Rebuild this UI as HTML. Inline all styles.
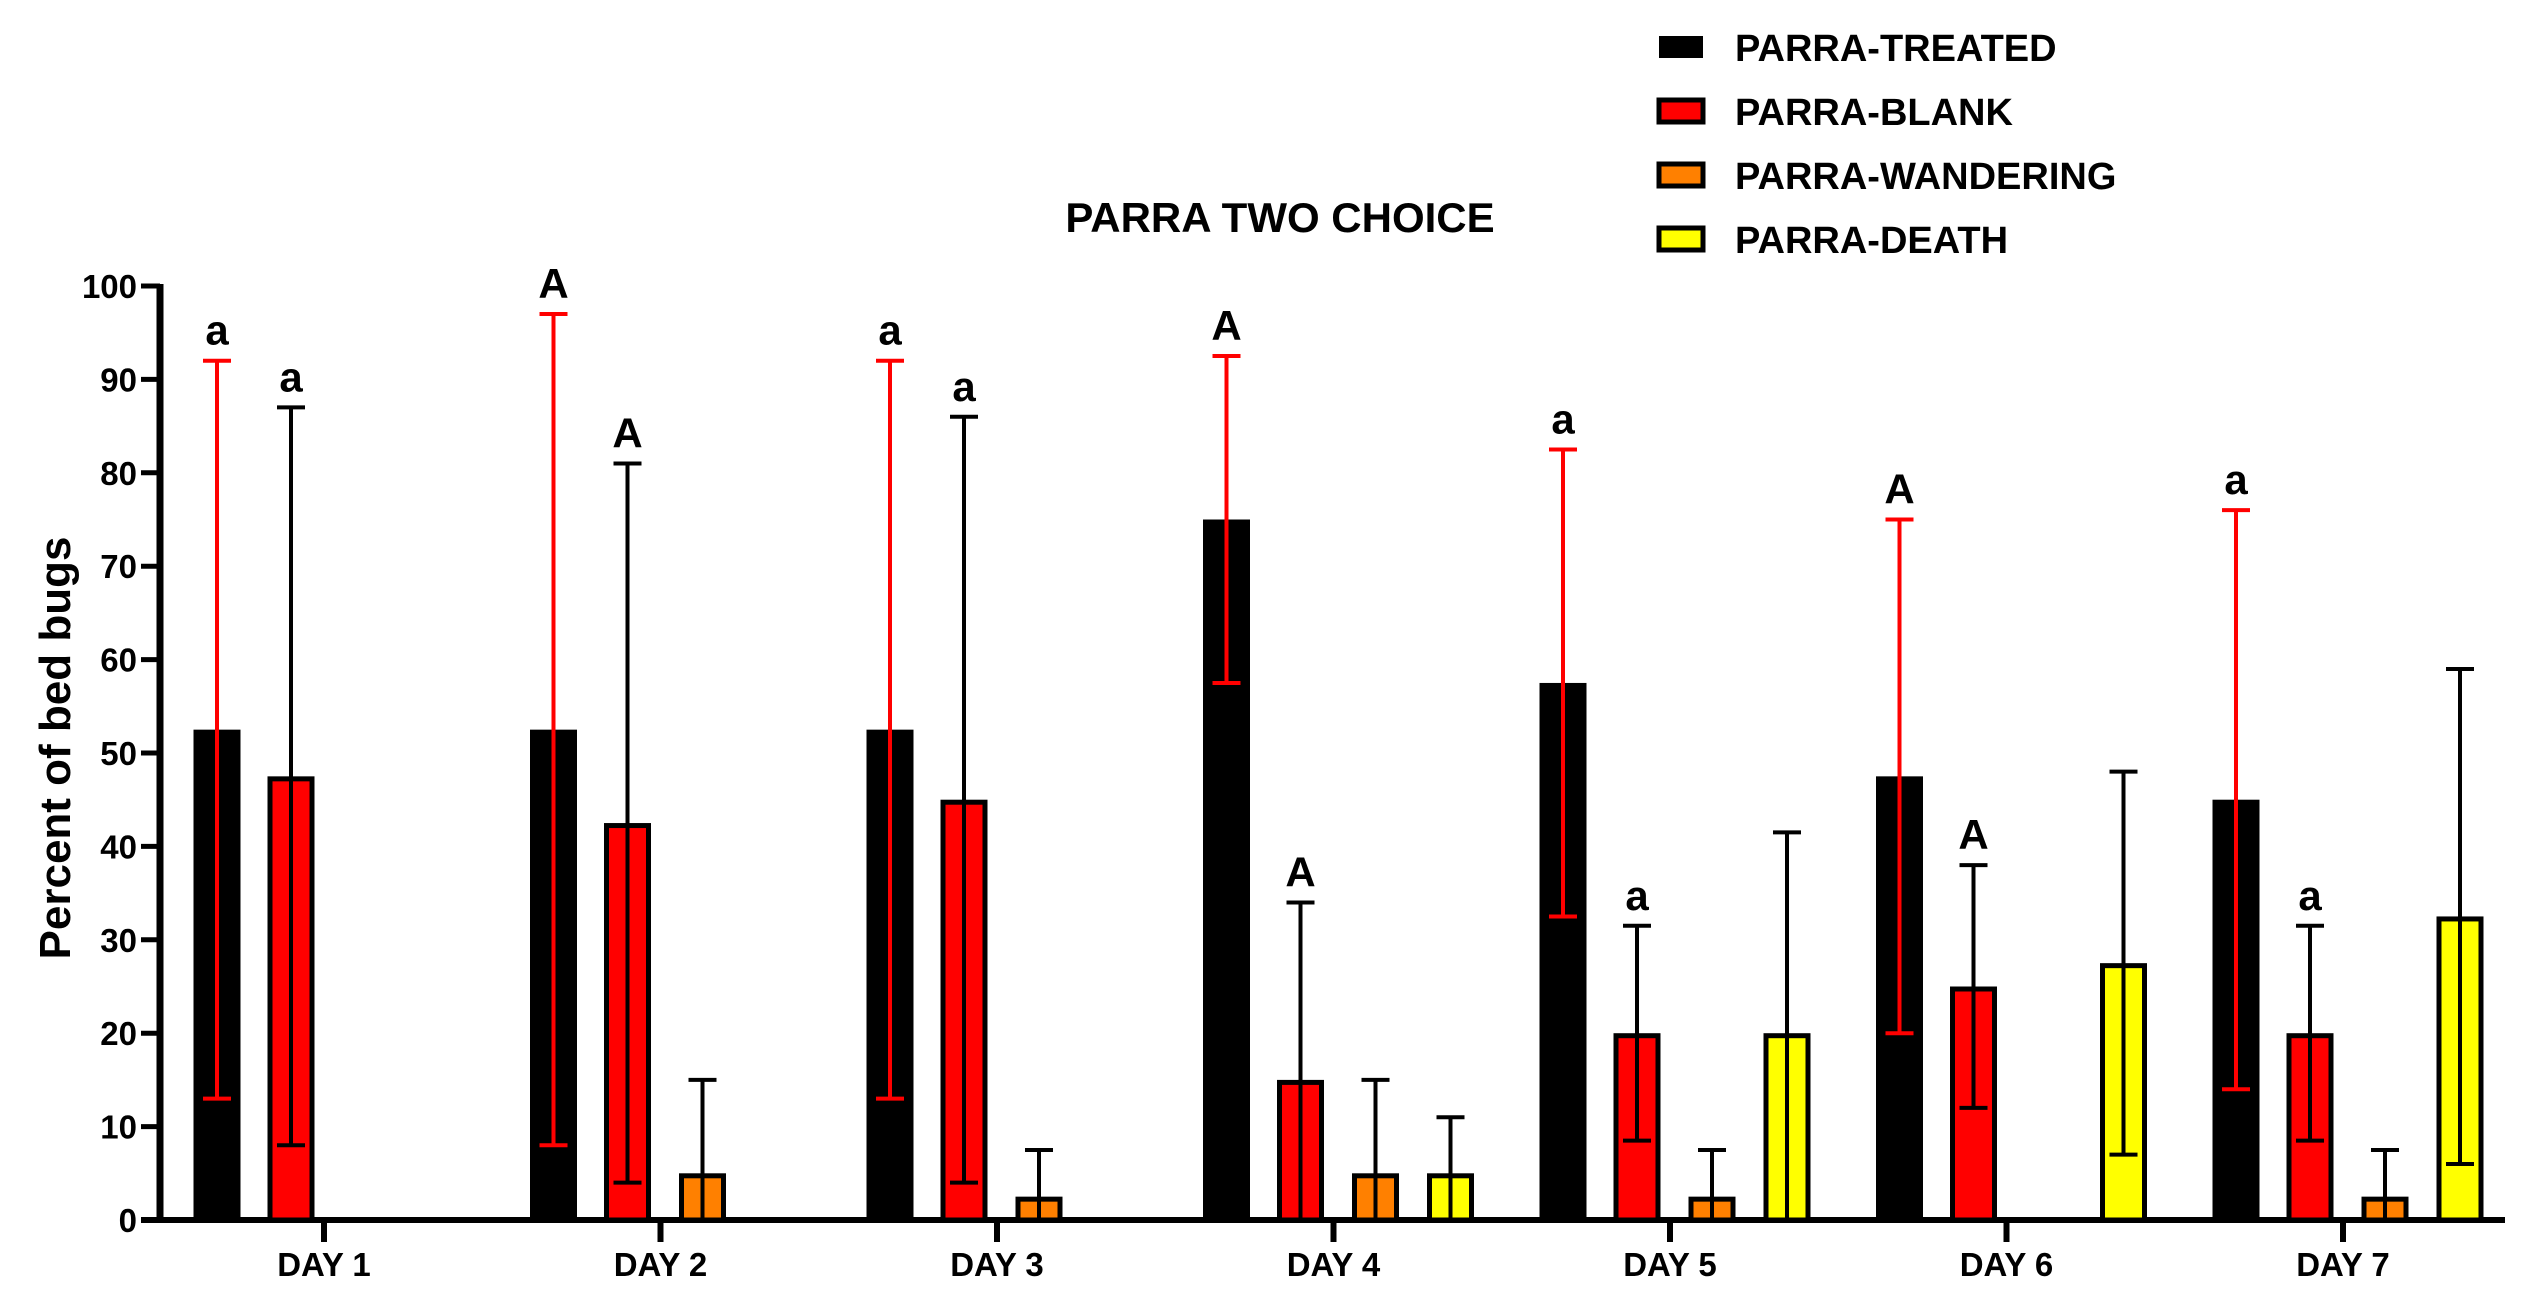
<!DOCTYPE html>
<html><head><meta charset="utf-8"><style>
body{margin:0;background:#fff;}
svg{display:block;font-family:"Liberation Sans",Arial,sans-serif;}
</style></head><body>
<svg id="chart" width="2522" height="1308" viewBox="0 0 2522 1308" xmlns="http://www.w3.org/2000/svg">
<text x="1280" y="232" font-size="42" font-weight="bold" text-anchor="middle">PARRA TWO CHOICE</text>
<text transform="translate(70,748) rotate(-90)" font-size="44" font-weight="bold" text-anchor="middle" font-family="'Liberation Sans Narrow','Liberation Sans',sans-serif">Percent of bed bugs</text>
<g id="legend"></g>
<g id="plot"></g>
</svg>
<script>
const categories=["DAY 1","DAY 2","DAY 3","DAY 4","DAY 5","DAY 6","DAY 7"];
const seriesNames=["PARRA-TREATED","PARRA-BLANK","PARRA-WANDERING","PARRA-DEATH"];
const treated=[52.5,52.5,52.5,75,57.5,47.5,45];
const treatedHi=[92,97,92,92.5,82.5,75,76];
const treatedLo=[13,8,13,57.5,32.5,20,14];
const blank=[47.5,42.5,45,15,20,25,20];
const blankHi=[87,81,86,34,31.5,38,31.5];
const blankLo=[8,4,4,0,8.5,12,8.5];
const wandering=[0,5,2.5,5,2.5,0,2.5];
const wanderingHi=[null,15,7.5,15,7.5,null,7.5];
const death=[0,0,0,5,20,27.5,32.5];
const deathHi=[null,null,null,11,41.5,48,59];
const deathLo=[null,null,null,null,null,7,6];
const treatedLetters=["a","A","a","A","a","A","a"];
const blankLetters=["a","A","a","A","a","A","a"];
const yTicks=[0,10,20,30,40,50,60,70,80,90,100];

const NS="http://www.w3.org/2000/svg";
const plot=document.getElementById('plot');
const y0=1220,y100=286,axX=160,axEnd=2505;
function yScale(v){return y0-(v/100)*(y0-y100);}
function xScale(i){return 324+i*336.5;}
const offsets=[-107,-33,42,117];
const fills=["#000","#ff0000","#ff8000","#ffff00"];
function el(tag,attrs,parent){const e=document.createElementNS(NS,tag);for(const k in attrs)e.setAttribute(k,attrs[k]);(parent||plot).appendChild(e);return e;}

let a=el('line',{x1:axX,y1:y100-2,x2:axX,y2:y0+3,stroke:'#000','stroke-width':7});


a=el('line',{x1:141,y1:y0,x2:axEnd,y2:y0,stroke:'#000','stroke-width':6});


yTicks.forEach(t=>{
  const y=yScale(t);
  let l=el('line',{x1:141,y1:y,x2:axX,y2:y,stroke:'#000','stroke-width':5});
  
  
  let tx=el('text',{x:137,y:y+12,'font-size':33,'font-weight':'bold','text-anchor':'end'});
  tx.textContent=t;
  
  
});
categories.forEach((c,i)=>{
  const x=xScale(i);
  let l=el('line',{x1:x,y1:y0,x2:x,y2:y0+22,stroke:'#000','stroke-width':6});
  
  
  let tx=el('text',{x:x,y:y0+56,'font-size':33,'font-weight':'bold','text-anchor':'middle'});
  tx.textContent=c;
  
  
});

const bw=47;
function errbar(cx,hi,lo,col){
  if(hi!=null){
    let l=el('line',{x1:cx,y1:yScale(hi),x2:cx,y2:yScale(lo!=null?lo:0),stroke:col,'stroke-width':4});
    
    
    let c=el('line',{x1:cx-14,y1:yScale(hi),x2:cx+14,y2:yScale(hi),stroke:col,'stroke-width':4});
    
    
  }
  if(lo!=null&&lo>0){
    let c=el('line',{x1:cx-14,y1:yScale(lo),x2:cx+14,y2:yScale(lo),stroke:col,'stroke-width':4});
    
    
  }
}
function letter(cx,v,t){
  let tx=el('text',{x:cx,y:yScale(v)-16,'font-size':42,'font-weight':'bold','text-anchor':'middle'});
  tx.textContent=t;
  
  
}
const all=[treated,blank,wandering,death];
const his=[treatedHi,blankHi,wanderingHi,deathHi];
const los=[treatedLo,blankLo,wandering.map(()=>null),deathLo];
const ecol=["#ff0000","#000","#000","#000"];
categories.forEach((c,i)=>{
  all.forEach((s,k)=>{
    const v=s[i];const cx=xScale(i)+offsets[k];
    if(v>0){
      const top=yScale(v);
      let r;
      if(k===0){r=el('rect',{x:cx-bw/2,y:top,width:bw,height:y0-top,fill:'#000'});}
      else{r=el('rect',{x:cx-bw/2+2.5,y:top+2.5,width:bw-5,height:y0-top-2.5,fill:fills[k],stroke:'#000','stroke-width':5});}
      
      
    }
    errbar(cx,his[k][i],los[k][i],ecol[k]);
  });
  letter(xScale(i)+offsets[0],treatedHi[i],treatedLetters[i]);
  letter(xScale(i)+offsets[1],blankHi[i],blankLetters[i]);
});

const lg=document.getElementById('legend');
seriesNames.forEach((n,k)=>{
  const y=47+k*64;
  let r=el('rect',{x:1659,y:y-11,width:44,height:22,fill:k===0?'#000':fills[k],stroke:'#000','stroke-width':k===0?0:5},lg);
  
  
  let tx=el('text',{x:1735,y:y+14,'font-size':38,'font-weight':'bold','font-family':"'Liberation Sans Narrow','Liberation Sans',sans-serif"},lg);
  tx.textContent=n;
  
  
});
</script>
</body></html>
